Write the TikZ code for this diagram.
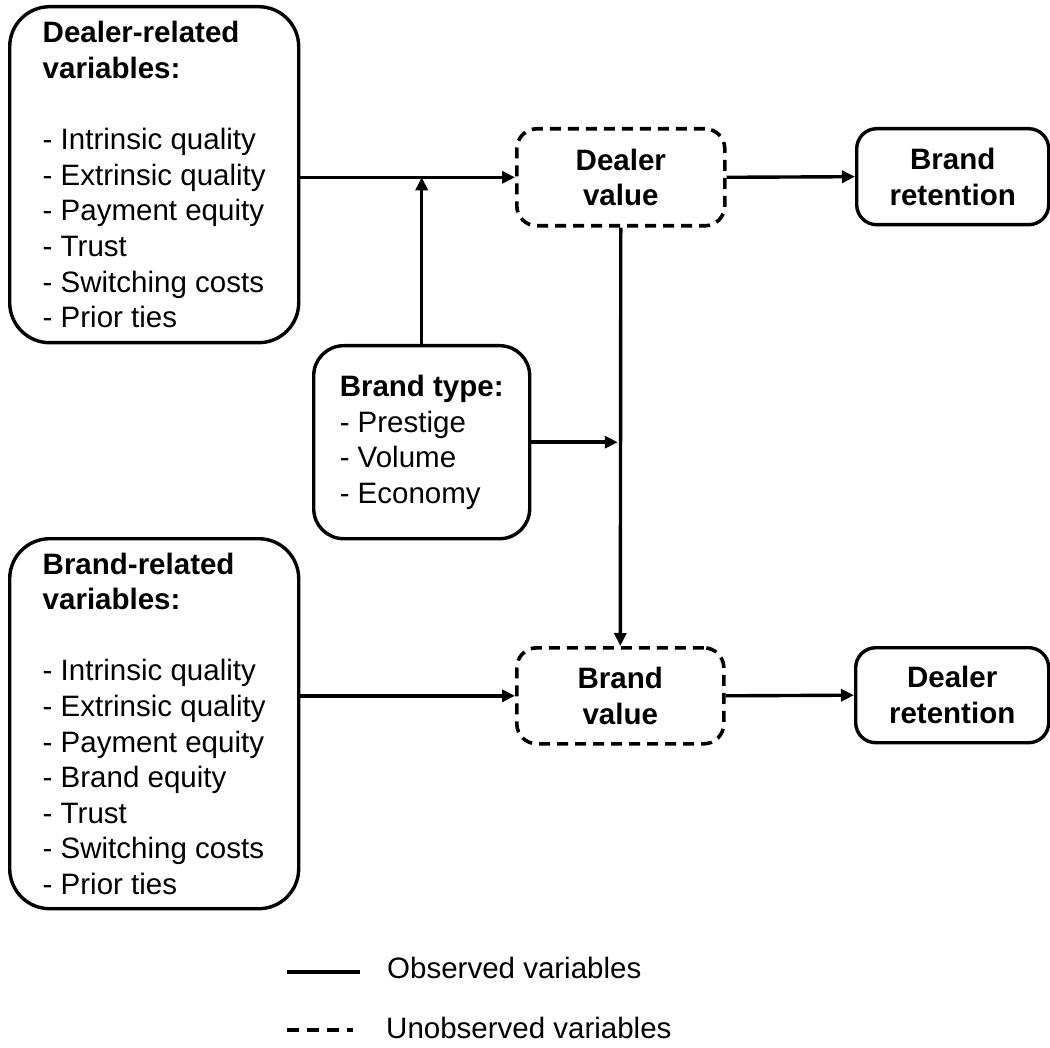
\documentclass[tikz,border=0pt]{standalone}
\usepackage{fontspec}
\setmainfont{Liberation Sans}
\usetikzlibrary{arrows.meta}
\begin{document}
\begin{tikzpicture}[x=1pt,y=-1pt,
  txt/.style={font=\fontsize{29.5}{35.6}\selectfont},
  obsbox/.style={draw, line width=3.4pt, rounded corners=#1, anchor=north west,
    inner sep=0pt, txt},
  unobsbox/.style={draw, line width=3.6pt, dash pattern=on 11pt off 7pt,
    rounded corners=20pt, anchor=north west, inner sep=0pt, txt,
    align=center, font=\fontsize{29.5}{35.6}\selectfont\bfseries},
  arr/.style={line width=3.4pt, -{Triangle[length=13pt,width=12pt]}},
  legline/.style={line width=3.4pt}
]
\useasboundingbox (0,0) rectangle (1050,1048);

% left boxes
\node[obsbox=40pt, minimum width=289pt, minimum height=336pt, align=left]
  (dbox) at (8,5)
  {\textbf{Dealer-related}\\\textbf{variables:}\\[35.6pt]
   - Intrinsic quality\\- Extrinsic quality\\- Payment equity\\- Trust\\
   - Switching costs\\- Prior ties};
\node[obsbox=40pt, minimum width=289pt, minimum height=370pt, align=left]
  (bbox) at (8,537)
  {\textbf{Brand-related}\\\textbf{variables:}\\[35.6pt]
   - Intrinsic quality\\- Extrinsic quality\\- Payment equity\\- Brand equity\\
   - Trust\\- Switching costs\\- Prior ties};

% moderator
\node[obsbox=30pt, minimum width=216pt, minimum height=193pt, align=left]
  (bt) at (312,344)
  {\textbf{Brand type:}\\- Prestige\\- Volume\\- Economy};

% value boxes (unobserved)
\node[unobsbox, minimum width=208pt, minimum height=97pt] (dv) at (515,127)
  {Dealer\\value};
\node[unobsbox, minimum width=207pt, minimum height=96pt] (bv) at (515,646)
  {Brand\\value};

% retention boxes
\node[obsbox=20pt, minimum width=192pt, minimum height=96pt, align=center,
  font=\fontsize{29.5}{35.6}\selectfont\bfseries] (br) at (855,127)
  {Brand\\retention};
\node[obsbox=20pt, minimum width=193pt, minimum height=95pt, align=center,
  font=\fontsize{29.5}{35.6}\selectfont\bfseries] (dr) at (854,646)
  {Dealer\\retention};

% connectors
\draw[arr] (dbox.east |- dv.west) -- (dv.west);
\draw[arr] (bbox.east |- bv.west) -- (bv.west);
\draw[arr] (bt.north) -- (bt.north |- dv.west);
\coordinate (join) at (dv.south |- bt.east);
\draw[arr, shorten >=3pt] (bt.east) -- (join);
\draw[arr] (dv.south) -- (bv.north);
\draw[arr] (dv.east) -- (br.west);
\draw[arr] (bv.east) -- (dr.west);

% legend
\coordinate (la1) at (287,972);
\coordinate (lb1) at (360,972);
\coordinate (la2) at (287,1030);
\coordinate (lb2) at (353,1030);
\draw[legline] (la1) -- (lb1);
\draw[legline, dash pattern=on 12pt off 8pt] (la2) -- (lb2);
\node[txt, anchor=base west, inner sep=0pt] (lt1) at (387,978) {Observed variables};
\node[txt, anchor=base west, inner sep=0pt] (lt2) at (386,1038) {Unobserved variables};
\end{tikzpicture}
\end{document}
